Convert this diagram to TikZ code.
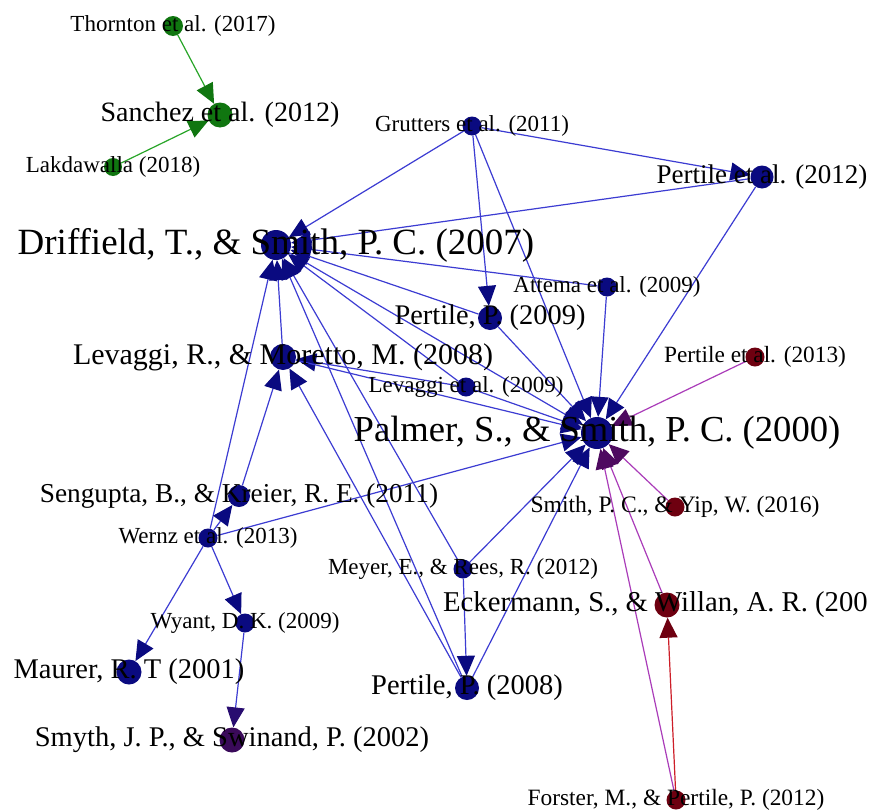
\documentclass[tikz,border=0pt]{standalone}
\usepackage{fontspec}
\setmainfont{Liberation Serif}
\usetikzlibrary{arrows.meta}
\definecolor{navy}{RGB}{10,10,128}
\definecolor{dgreen}{RGB}{16,118,16}
\definecolor{dred}{RGB}{110,0,16}
\definecolor{dpurp}{RGB}{58,10,90}
\definecolor{eblue}{RGB}{60,60,210}
\definecolor{epurp}{RGB}{170,60,185}
\definecolor{ered}{RGB}{205,30,40}
\definecolor{egreen}{RGB}{40,165,40}
\definecolor{tippurp}{RGB}{78,10,96}
\definecolor{tipsm}{RGB}{40,12,112}
\begin{document}
\begin{tikzpicture}[x=1pt,y=-1pt,
  vert/.style={circle, inner sep=0pt, draw=none, minimum size=#1},
  lab/.style={font=\fontsize{#1}{#1}\selectfont, inner sep=0pt, text=black},
  ed/.style 2 args={draw=#1, line width=1.2pt, -{Triangle[length=20pt,width=18pt,color=#2]}},
  be/.style={ed={eblue}{navy}},
  pe/.style={ed={epurp}{tippurp}},
  re/.style={ed={ered}{dred}},
  ge/.style={ed={egreen}{dgreen}},
  se/.style={ed={eblue}{tipsm}}]
\path[fill=white] (0,0) rectangle (870,811);
\useasboundingbox (0,0) rectangle (870,811);
% vertices
\node[vert=20pt, fill=dgreen] (thornton) at (173,26) {};
\node[vert=25pt, fill=dgreen] (sanchez) at (220,115) {};
\node[vert=18pt, fill=dgreen] (lakdawalla) at (113,167) {};
\node[vert=19pt, fill=navy] (grutters) at (472,126) {};
\node[vert=23pt, fill=navy] (pertile12) at (762,177) {};
\node[vert=30pt, fill=navy] (driffield) at (276,245) {};
\node[vert=19pt, fill=navy] (attema) at (607,287) {};
\node[vert=24pt, fill=navy] (pertile09) at (490,318) {};
\node[vert=26pt, fill=navy] (levmor) at (283,357) {};
\node[vert=19pt, fill=dred] (pertile13) at (755,357) {};
\node[vert=19pt, fill=navy] (levaggi09) at (466,387) {};
\node[vert=32pt, fill=navy] (palmer) at (597,433) {};
\node[vert=22pt, fill=navy] (sengupta) at (239,496) {};
\node[vert=19pt, fill=navy] (wernz) at (208,538) {};
\node[vert=19pt, fill=dred] (smithyip) at (675,507) {};
\node[vert=19pt, fill=navy] (meyer) at (463,569) {};
\node[vert=25pt, fill=dred] (eckermann) at (667,605) {};
\node[vert=19pt, fill=navy] (wyant) at (245,623) {};
\node[vert=25pt, fill=navy] (maurer) at (129,672) {};
\node[vert=24pt, fill=navy] (pertile08) at (467,688) {};
\node[vert=25pt, fill=dpurp] (smyth) at (232,740) {};
\node[vert=19pt, fill=dred] (forster) at (676,800) {};
% edges
\draw[ge] (thornton) -- (sanchez);
\draw[ge] (lakdawalla) -- (sanchez);
\draw[be] (grutters) -- (driffield);
\draw[be] (grutters) -- (pertile12);
\draw[be] (grutters) -- (pertile09);
\draw[be] (grutters) -- (palmer);
\draw[be] (pertile12) -- (driffield);
\draw[be] (pertile12) -- (palmer);
\draw[be] (attema) -- (driffield);
\draw[be] (attema) -- (palmer);
\draw[be] (pertile09) -- (driffield);
\draw[be] (pertile09) -- (palmer);
\draw[be] (driffield) -- (palmer);
\draw[be] (levaggi09) -- (driffield);
\draw[be] (levaggi09) -- (levmor);
\draw[be] (levaggi09) -- (palmer);
\draw[be] (levmor) -- (driffield);
\draw[be] (levmor) -- (palmer);
\draw[be] (meyer) -- (driffield);
\draw[be] (meyer) -- (palmer);
\draw[be] (meyer) -- (pertile08);
\draw[be] (pertile08) -- (driffield);
\draw[be] (pertile08) -- (levmor);
\draw[be] (pertile08) -- (palmer);
\draw[be] (wernz) -- (driffield);
\draw[be] (wernz) -- (sengupta);
\draw[be] (wernz) -- (palmer);
\draw[be] (wernz) -- (wyant);
\draw[be] (wernz) -- (maurer);
\draw[be] (sengupta) -- (levmor);
\draw[se] (wyant) -- (smyth);
\draw[pe] (pertile13) -- (palmer);
\draw[pe] (smithyip) -- (palmer);
\draw[pe] (eckermann) -- (palmer);
\draw[pe] (forster) -- (palmer);
\draw[re] (forster) -- (eckermann);
% labels
\node[lab=23] (thornton-l) at (thornton) {Thornton et al. (2017)};
\node[lab=28] (sanchez-l) at (sanchez) {Sanchez et al. (2012)};
\node[lab=23] (lakdawalla-l) at (lakdawalla) {Lakdawalla (2018)};
\node[lab=23] (grutters-l) at (grutters) {Grutters et al. (2011)};
\node[lab=27] (pertile12-l) at (pertile12) {Pertile et al. (2012)};
\node[lab=37] (driffield-l) at (driffield) {Driffield, T., \& Smith, P. C. (2007)};
\node[lab=23] (attema-l) at (attema) {Attema et al. (2009)};
\node[lab=28.4] (pertile09-l) at (pertile09) {Pertile, P. (2009)};
\node[lab=30] (levmor-l) at (levmor) {Levaggi, R., \& Moretto, M. (2008)};
\node[lab=23.3] (pertile13-l) at (pertile13) {Pertile et al. (2013)};
\node[lab=23] (levaggi09-l) at (levaggi09) {Levaggi et al. (2009)};
\node[lab=36.6] (palmer-l) at (palmer) {Palmer, S., \& Smith, P. C. (2000)};
\node[lab=27.3] (sengupta-l) at (sengupta) {Sengupta, B., \& Kreier, R. E. (2011)};
\node[lab=23] (wernz-l) at (wernz) {Wernz et al. (2013)};
\node[lab=23.6] (smithyip-l) at (smithyip) {Smith, P. C., \& Yip, W. (2016)};
\node[lab=23] (meyer-l) at (meyer) {Meyer, E., \& Rees, R. (2012)};
\node[lab=28.7, anchor=west] (eckermann-l) at (443,605) {Eckermann, S., \& Willan, A. R. (200};
\node[lab=23] (wyant-l) at (wyant) {Wyant, D. K. (2009)};
\node[lab=28.5] (maurer-l) at (maurer) {Maurer, R. T (2001)};
\node[lab=28.5] (pertile08-l) at (pertile08) {Pertile, P. (2008)};
\node[lab=28.5] (smyth-l) at (smyth) {Smyth, J. P., \& Swinand, P. (2002)};
\node[lab=23.4] (forster-l) at (forster) {Forster, M., \& Pertile, P. (2012)};
\end{tikzpicture}
\end{document}
